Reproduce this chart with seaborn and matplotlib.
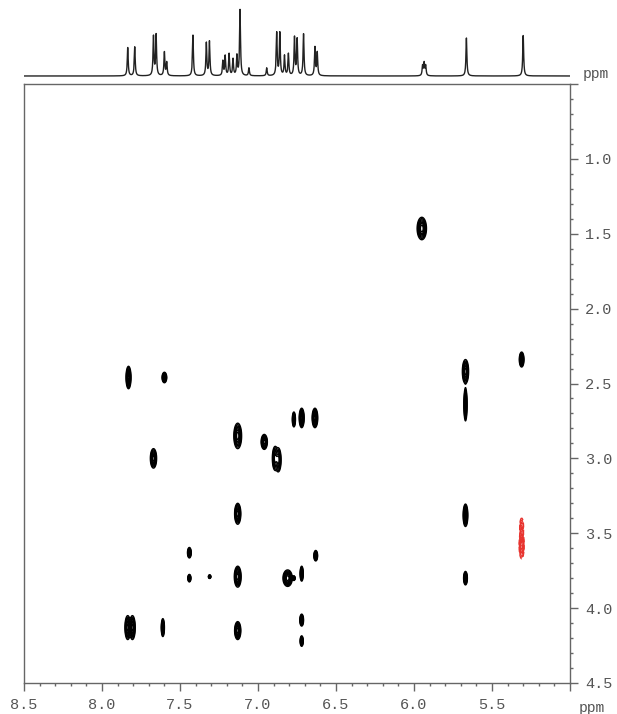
import numpy as np
import matplotlib
matplotlib.use("Agg")
import matplotlib.pyplot as plt
import seaborn as sns
from matplotlib.ticker import MultipleLocator, FuncFormatter

sns.set_theme(style="white")
plt.rcParams['font.family'] = ['Liberation Mono', 'DejaVu Sans Mono']

# 1D proton trace on top: peak shifts (ppm) and relative heights
h1_shift = [7.835, 7.79, 7.67, 7.653, 7.60, 7.585, 7.417, 7.331, 7.311,
            7.225, 7.21, 7.185, 7.16, 7.135, 7.115, 7.058, 6.944,
            6.88, 6.86, 6.83, 6.805, 6.766, 6.749, 6.708, 6.635, 6.62,
            5.945, 5.935, 5.925, 5.664, 5.30]
h1_height = [0.43, 0.44, 0.60, 0.62, 0.36, 0.20, 0.62, 0.50, 0.52,
             0.22, 0.30, 0.33, 0.25, 0.30, 1.00, 0.12, 0.12,
             0.65, 0.65, 0.30, 0.33, 0.58, 0.55, 0.64, 0.43, 0.35,
             0.15, 0.19, 0.15, 0.58, 0.62]

# 2D cross peaks: F2 shift, F1 shift, half width, half height, sign
cp_f2 = [5.95, 7.83, 7.60, 5.67, 5.67, 5.31, 7.13, 6.96, 6.89, 6.87,
         6.77, 6.72, 6.635, 7.67, 7.13, 5.67, 7.44, 7.44, 7.31, 7.13,
         6.81, 6.77, 6.72, 6.63, 7.835, 7.805, 7.61, 7.13, 6.72, 6.72,
         5.67, 5.31, 5.31]
cp_f1 = [1.465, 2.46, 2.46, 2.42, 2.64, 2.34, 2.85, 2.89, 3.00, 3.01,
         2.74, 2.73, 2.73, 3.00, 3.37, 3.38, 3.63, 3.80, 3.79, 3.79,
         3.80, 3.80, 3.77, 3.65, 4.13, 4.13, 4.13, 4.15, 4.08, 4.22,
         3.80, 3.46, 3.58]
cp_wx = [0.030, 0.016, 0.015, 0.020, 0.010, 0.015, 0.025, 0.020, 0.018, 0.018,
         0.010, 0.016, 0.018, 0.020, 0.020, 0.015, 0.012, 0.010, 0.008, 0.022,
         0.030, 0.008, 0.010, 0.012, 0.018, 0.018, 0.010, 0.020, 0.012, 0.010,
         0.012, 0.016, 0.016]
cp_wy = [0.075, 0.075, 0.035, 0.080, 0.110, 0.050, 0.085, 0.050, 0.080, 0.080,
         0.050, 0.065, 0.065, 0.065, 0.070, 0.075, 0.035, 0.025, 0.012, 0.070,
         0.055, 0.015, 0.050, 0.035, 0.080, 0.080, 0.060, 0.060, 0.040, 0.035,
         0.045, 0.080, 0.090]
cp_amp = [1] * 31 + [-0.35, -1]

x_ticks = [8.5, 8.0, 7.5, 7.0, 6.5, 6.0, 5.5]
y_ticks = [1.0, 1.5, 2.0, 2.5, 3.0, 3.5, 4.0, 4.5]

GRAY = "#555555"

fig = plt.figure(figsize=(6.17, 7.14), dpi=100)
ax = fig.add_axes([24 / 617, 1 - 683 / 714, 546 / 617, 599 / 714])
ax_top = fig.add_axes([24 / 617, 1 - 80 / 714, 546 / 617, 72 / 714], sharex=ax)

# top 1D spectrum
ppm = np.linspace(8.5, 5.0, 5000)
hw = 0.0035
spec = np.zeros_like(ppm)
for s, h in zip(h1_shift, h1_height):
    spec += h * hw**2 / ((ppm - s) ** 2 + hw**2)
sns.lineplot(x=ppm, y=spec, ax=ax_top, color="#222222", linewidth=1.0)
ax_top.set_ylim(-0.061, 1.033)
ax_top.axis("off")

# 2D contour map
xg = np.linspace(8.5, 5.0, 1800)
yg = np.linspace(0.5, 4.5, 1400)
Z = np.zeros((len(yg), len(xg)))
for x0, y0, wx, wy, a in zip(cp_f2, cp_f1, cp_wx, cp_wy, cp_amp):
    sx, sy = wx / 2.25, wy / 2.25
    gx = np.exp(-(xg - x0) ** 2 / (2 * sx**2))
    gy = np.exp(-(yg - y0) ** 2 / (2 * sy**2))
    Z += a * np.outer(gy, gx)
X, Y = np.meshgrid(xg, yg)
pos_levels = [0.08, 0.14, 0.22, 0.32, 0.45, 0.6, 0.8]
ax.contour(X, Y, Z, levels=pos_levels, colors="black", linewidths=1.0)
ax.contour(X, Y, Z, levels=[-v for v in pos_levels[::-1]], colors="#e8342f", linewidths=1.0)

ax.set_xlim(8.5, 5.0)
ax.set_ylim(4.5, 0.5)

for sp in ax.spines.values():
    sp.set_color("#666666")
    sp.set_linewidth(1.0)

ax.xaxis.set_major_locator(MultipleLocator(0.5))
ax.xaxis.set_minor_locator(MultipleLocator(0.1))
ax.yaxis.set_major_locator(MultipleLocator(0.5))
ax.yaxis.set_minor_locator(MultipleLocator(0.1))
ax.xaxis.set_major_formatter(FuncFormatter(lambda v, p: f"{v:.1f}" if round(v, 1) in x_ticks else ""))
ax.yaxis.set_major_formatter(FuncFormatter(lambda v, p: f"{v:.1f}" if round(v, 1) in y_ticks else ""))
ax.yaxis.tick_right()
ax.tick_params(axis="both", which="major", direction="out", length=6, width=1,
               color="#666666", labelcolor=GRAY, labelsize=11, pad=5)
ax.tick_params(axis="both", which="minor", direction="out", length=2.5, width=1,
               color="#666666")
ax.tick_params(axis="x", bottom=True, top=False, which="both")
ax.tick_params(axis="y", right=True, left=False, which="both")
ax.grid(False)

fig.text(579 / 617, 1 - 708 / 714, "ppm", color=GRAY, fontsize=10.5, va="center", ha="left")
fig.text(583 / 617, 1 - 74 / 714, "ppm", color=GRAY, fontsize=10.5, va="center", ha="left")

fig.savefig("out.png", dpi=100)
